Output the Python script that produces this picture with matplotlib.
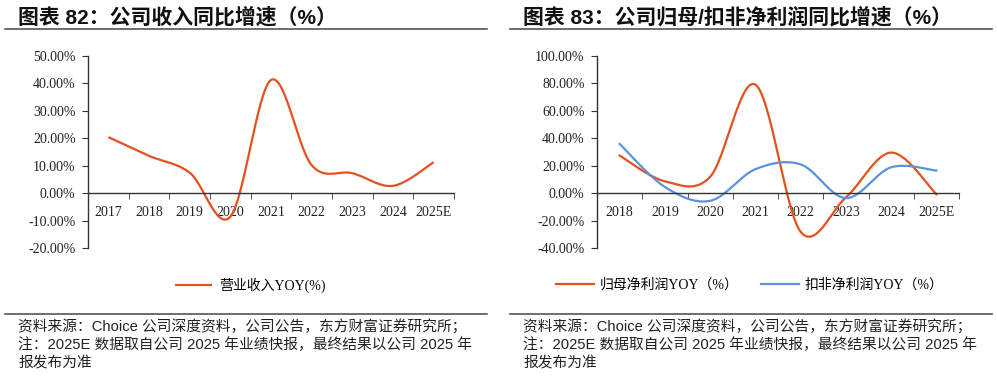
import numpy as np
import matplotlib.pyplot as plt
from matplotlib.lines import Line2D
from matplotlib.ticker import FixedLocator, FuncFormatter

# 数据
years_l = ['2017', '2018', '2019', '2020', '2021', '2022', '2023', '2024', '2025E']
rev_yoy = [20.4, 13.6, 7.5, -8.5, 41.2, 10.2, 7.3, 2.7, 11.3]

years_r = ['2018', '2019', '2020', '2021', '2022', '2023', '2024', '2025E']
np_yoy = [27.4, 8.7, 12.0, 79.0, -28.0, -3.0, 29.6, -0.7]
kf_yoy = [35.9, 4.6, -5.5, 17.5, 21.0, -3.5, 18.9, 16.5]

RED = '#E5511E'
BLUE = '#5A93DA'
SERIF = ['Liberation Serif', 'Noto Sans CJK SC']
SANS = ['Liberation Sans', 'Noto Sans CJK SC']


def smooth(y, n=30):
    # 类似 Excel 平滑线的 Catmull-Rom 曲线
    x = np.arange(len(y), dtype=float)
    y = np.asarray(y, dtype=float)
    xp = np.concatenate([[x[0]], x, [x[-1]]])
    yp = np.concatenate([[y[0]], y, [y[-1]]])
    t = np.linspace(0, 1, n)
    xs, ys = [], []
    for i in range(len(y) - 1):
        p0x, p3x = xp[i + 1], xp[i + 2]
        p0y, p3y = yp[i + 1], yp[i + 2]
        p1x = p0x + (xp[i + 2] - xp[i]) / 6
        p1y = p0y + (yp[i + 2] - yp[i]) / 6
        p2x = p3x - (xp[i + 3] - xp[i + 1]) / 6
        p2y = p3y - (yp[i + 3] - yp[i + 1]) / 6
        b = [(1 - t) ** 3, 3 * (1 - t) ** 2 * t, 3 * (1 - t) * t ** 2, t ** 3]
        xs.append(b[0] * p0x + b[1] * p1x + b[2] * p2x + b[3] * p3x)
        ys.append(b[0] * p0y + b[1] * p1y + b[2] * p2y + b[3] * p3y)
    return np.concatenate(xs), np.concatenate(ys)


def style_axis(ax, cats, ylo, yhi, step):
    n = len(cats)
    ax.set_xlim(-0.5, n - 0.5)
    ax.set_ylim(ylo, yhi)
    for s in ['top', 'right']:
        ax.spines[s].set_visible(False)
    ax.spines['bottom'].set_position(('data', 0))
    for s in ['left', 'bottom']:
        ax.spines[s].set_color('#333333')
        ax.spines[s].set_linewidth(1)
    ax.set_xticks(range(n))
    ax.set_xticklabels(cats, fontfamily=SERIF, fontsize=10, color='#222222')
    ax.xaxis.set_minor_locator(FixedLocator(np.arange(0.5, n, 1)))
    ax.tick_params(axis='x', which='major', length=0, pad=9)
    ax.tick_params(axis='x', which='minor', length=4, direction='out', color='#333333')
    ax.set_yticks(np.arange(ylo, yhi + 0.1, step))
    ax.yaxis.set_major_formatter(FuncFormatter(lambda v, p: f'{v:.2f}%'))
    ax.tick_params(axis='y', length=4, direction='out', pad=5, color='#333333',
                   labelsize=10, labelcolor='#222222')
    for lb in ax.get_yticklabels():
        lb.set_fontfamily(SERIF)


fig = plt.figure(figsize=(9.97, 3.76), dpi=100)

# 左图
ax1 = fig.add_axes([0.0883, 0.3396, 0.3671, 0.5122])
sx, sy = smooth(rev_yoy)
ax1.plot(sx, sy, color=RED, lw=1.6, label='营业收入YOY(%)', solid_capstyle='butt')
style_axis(ax1, years_l, -20, 50, 10)
ax1.legend(loc='center', bbox_to_anchor=(250 / 997, 1 - 285 / 376),
           bbox_transform=fig.transFigure, frameon=False, handlelength=2.7,
           handletextpad=0.45, prop={'family': SERIF, 'size': 10})

# 右图
ax2 = fig.add_axes([0.5988, 0.3396, 0.3631, 0.5122])
sx, sy = smooth(np_yoy)
ax2.plot(sx, sy, color=RED, lw=1.6, label='归母净利润YOY（%）')
sx, sy = smooth(kf_yoy)
ax2.plot(sx, sy, color=BLUE, lw=1.6, label='扣非净利润YOY（%）')
style_axis(ax2, years_r, -40, 100, 20)
ax2.legend(loc='center', bbox_to_anchor=(750 / 997, 1 - 285 / 376),
           bbox_transform=fig.transFigure, frameon=False, ncol=2, handlelength=2.7,
           handletextpad=0.45, columnspacing=1.6, prop={'family': SERIF, 'size': 10})

# 标题与分隔线
fig.text(18 / 997, 1 - 17 / 376, '图表 82：公司收入同比增速（%）', fontfamily=SANS,
         fontsize=15, fontweight='bold', va='center', ha='left', color='#111111')
fig.text(523 / 997, 1 - 17 / 376, '图表 83：公司归母/扣非净利润同比增速（%）', fontfamily=SANS,
         fontsize=15, fontweight='bold', va='center', ha='left', color='#111111')
for x0, x1 in [(5, 487), (510, 992)]:
    for yy in [29, 314]:
        fig.add_artist(Line2D([x0 / 997, x1 / 997], [1 - yy / 376] * 2,
                              color='#555555', lw=1.2))

# 资料来源
notes = ['资料来源：Choice 公司深度资料，公司公告，东方财富证券研究所；',
         '注：2025E 数据取自公司 2025 年业绩快报，最终结果以公司 2025 年',
         '报发布为准']
for xx in [18, 523]:
    for i, line in enumerate(notes):
        fig.text(xx / 997, 1 - (327 + 18 * i) / 376, line, fontfamily=SANS,
                 fontsize=10.6, va='center', ha='left', color='#222222')

fig.savefig('out.png', dpi=100)
